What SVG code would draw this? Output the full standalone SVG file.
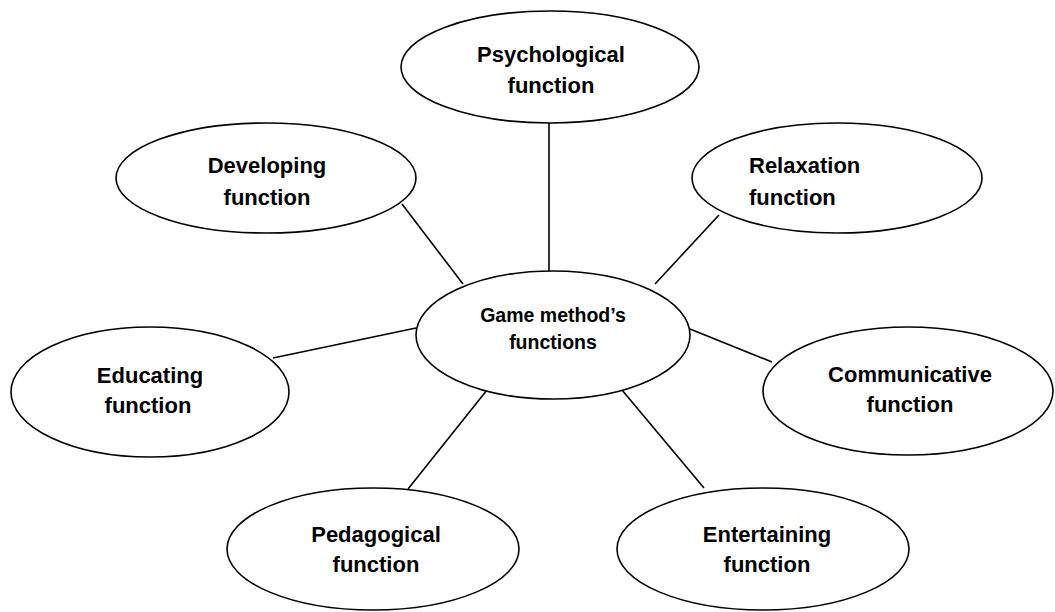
<svg xmlns="http://www.w3.org/2000/svg" width="1055" height="612" viewBox="0 0 1055 612">
<style>
.node ellipse{fill:#fff;stroke:#000;stroke-width:1.6}
.node text{font-family:"Liberation Sans",Arial,sans-serif;font-weight:bold;font-size:22px;fill:#000;text-anchor:middle}
#center text{font-size:19.5px}
#connectors line{stroke:#000;stroke-width:1.6}
</style>
<rect width="1055" height="612" fill="#fff"/>
<g id="connectors">
<line x1="549" y1="123" x2="549" y2="272"/>
<line x1="402" y1="204" x2="463" y2="284"/>
<line x1="719" y1="215" x2="655" y2="284"/>
<line x1="273" y1="358" x2="416" y2="328"/>
<line x1="690" y1="329" x2="772" y2="362"/>
<line x1="487" y1="390" x2="408" y2="489"/>
<line x1="622" y1="390" x2="704" y2="488"/>
</g>
<g id="psychological" class="node">
<ellipse cx="550" cy="67" rx="149" ry="56"/>
<text x="551" y="62">Psychological</text>
<text x="551" y="93">function</text>
</g>
<g id="developing" class="node">
<ellipse cx="266" cy="178" rx="150" ry="55"/>
<text x="267" y="173">Developing</text>
<text x="267" y="205">function</text>
</g>
<g id="relaxation" class="node">
<ellipse cx="837" cy="178" rx="145" ry="55"/>
<text x="749" y="173" style="text-anchor:start">Relaxation</text>
<text x="749" y="205" style="text-anchor:start">function</text>
</g>
<g id="center" class="node">
<ellipse cx="553" cy="335" rx="137" ry="64"/>
<text x="553" y="322">Game method’s</text>
<text x="553" y="349">functions</text>
</g>
<g id="educating" class="node">
<ellipse cx="150" cy="392" rx="139" ry="65"/>
<text x="150" y="383">Educating</text>
<text x="148" y="413">function</text>
</g>
<g id="communicative" class="node">
<ellipse cx="908" cy="391" rx="145" ry="64"/>
<text x="910" y="382">Communicative</text>
<text x="910" y="412">function</text>
</g>
<g id="pedagogical" class="node">
<ellipse cx="373" cy="549" rx="146" ry="61"/>
<text x="376" y="542">Pedagogical</text>
<text x="376" y="572">function</text>
</g>
<g id="entertaining" class="node">
<ellipse cx="763" cy="549" rx="146" ry="61"/>
<text x="767" y="542">Entertaining</text>
<text x="767" y="572">function</text>
</g>
</svg>
